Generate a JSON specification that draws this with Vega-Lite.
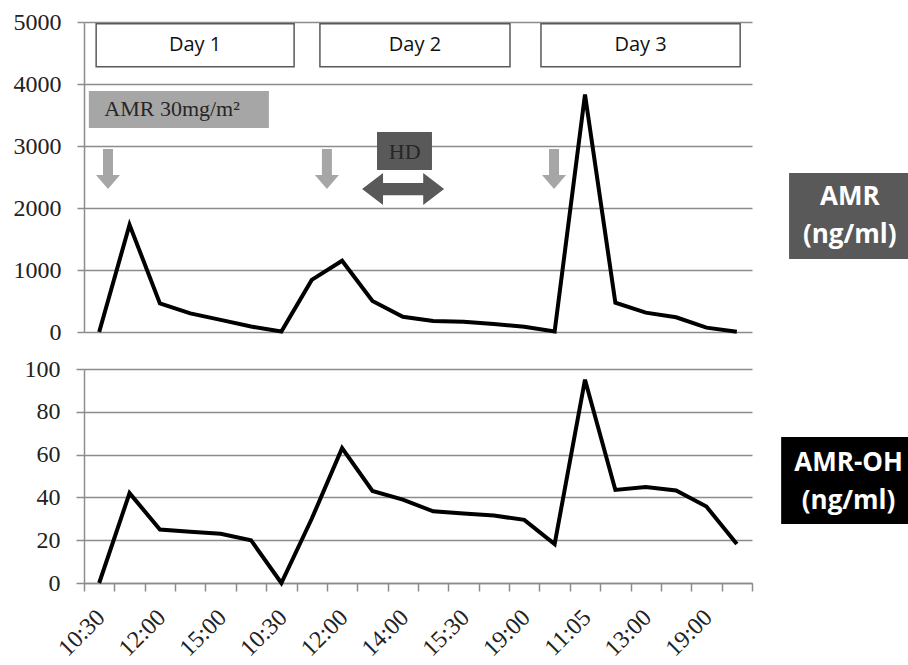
{
  "$schema": "https://vega.github.io/schema/vega-lite/v6.json",
  "background": "white",
  "padding": {"left": 13, "top": 10, "right": 0, "bottom": 0},
  "autosize": {"type": "pad"},
  "spacing": 37,
  "bounds": "flush",
  "config": {"view": {"stroke": null}},
  "datasets": {
    "conc": [
      {"idx": 0, "time": "10:30", "AMR": 0, "AMR_OH": 0},
      {"idx": 1, "time": "", "AMR": 1730, "AMR_OH": 42},
      {"idx": 2, "time": "12:00", "AMR": 460, "AMR_OH": 25},
      {"idx": 3, "time": "", "AMR": 300, "AMR_OH": 24},
      {"idx": 4, "time": "15:00", "AMR": 195, "AMR_OH": 23},
      {"idx": 5, "time": "", "AMR": 88, "AMR_OH": 20},
      {"idx": 6, "time": "10:30", "AMR": 8, "AMR_OH": 0},
      {"idx": 7, "time": "", "AMR": 840, "AMR_OH": 30},
      {"idx": 8, "time": "12:00", "AMR": 1150, "AMR_OH": 63},
      {"idx": 9, "time": "", "AMR": 500, "AMR_OH": 43},
      {"idx": 10, "time": "14:00", "AMR": 245, "AMR_OH": 39},
      {"idx": 11, "time": "", "AMR": 177, "AMR_OH": 33.5},
      {"idx": 12, "time": "15:30", "AMR": 166, "AMR_OH": 32.5},
      {"idx": 13, "time": "", "AMR": 129, "AMR_OH": 31.5},
      {"idx": 14, "time": "19:00", "AMR": 86, "AMR_OH": 29.5},
      {"idx": 15, "time": "", "AMR": 8, "AMR_OH": 18.2},
      {"idx": 16, "time": "11:05", "AMR": 3830, "AMR_OH": 95},
      {"idx": 17, "time": "", "AMR": 473, "AMR_OH": 43.5},
      {"idx": 18, "time": "13:00", "AMR": 312, "AMR_OH": 44.8},
      {"idx": 19, "time": "", "AMR": 237, "AMR_OH": 43.2},
      {"idx": 20, "time": "19:00", "AMR": 70, "AMR_OH": 35.7},
      {"idx": 21, "time": "", "AMR": 5, "AMR_OH": 18.2}
    ],
    "dayBoxes": [
      {"label": "Day 1", "x1": -0.1, "x2": 6.42, "xc": 3.16, "y1": 4970, "y2": 4280, "yc": 4625},
      {"label": "Day 2", "x1": 7.27, "x2": 13.53, "xc": 10.4, "y1": 4970, "y2": 4280, "yc": 4625},
      {"label": "Day 3", "x1": 14.55, "x2": 21.11, "xc": 17.83, "y1": 4970, "y2": 4280, "yc": 4625}
    ],
    "topBoxes": [
      {"label": "AMR 30mg/m²", "x1": -0.34, "x2": 5.59, "y1": 3887, "y2": 3290, "fill": "#a6a6a6"},
      {"label": "HD", "x1": 9.15, "x2": 10.96, "y1": 3226, "y2": 2613, "fill": "#595959"},
      {"label": "AMR", "x1": 22.72, "x2": 26.7, "y1": 2565, "y2": 1177, "fill": "#595959"}
    ],
    "topBoxText": [
      {"label": "AMR 30mg/m²", "x": 2.4, "y": 3600},
      {"label": "HD", "x": 10.06, "y": 2910}
    ],
    "downArrows": [
      {"x": 0.29, "y": 2630},
      {"x": 7.5, "y": 2630},
      {"x": 14.98, "y": 2630}
    ],
    "hdArrow": [
      {"x": 10.01, "y": 2306}
    ],
    "topSide": [
      {"label": "AMR", "x": 24.72, "y": 2170},
      {"label": "(ng/ml)", "x": 24.72, "y": 1560}
    ],
    "botBox": [
      {"x1": 22.46, "x2": 26.7, "y1": 68.2, "y2": 27.6}
    ],
    "botSide": [
      {"label": "AMR-OH", "x": 24.68, "y": 56.3},
      {"label": "(ng/ml)", "x": 24.68, "y": 38.5}
    ]
  },
  "vconcat": [
    {
      "width": 668,
      "height": 310,
      "layer": [
        {
          "data": {"name": "dayBoxes"},
          "mark": {"type": "rect", "fill": "white", "stroke": "#595959", "strokeWidth": 1.5},
          "encoding": {
            "x": {"field": "x1", "type": "quantitative", "scale": {"domain": [-0.5, 21.5], "nice": false, "zero": false}, "axis": null},
            "x2": {"field": "x2"},
            "y": {"field": "y1", "type": "quantitative", "scale": {"domain": [0, 5000], "nice": false},
              "axis": {"values": [0, 1000, 2000, 3000, 4000, 5000], "tickCount": 10, "format": "d", "grid": true, "gridColor": "#8c8c8c", "gridWidth": 1.5,
                "domain": true, "domainColor": "#8c8c8c", "domainWidth": 1.5, "ticks": true, "tickSize": 7, "tickColor": "#8c8c8c", "tickWidth": 1.5,
                "labelFont": "Liberation Serif", "labelFontSize": 24, "labelColor": "#222222", "labelPadding": 16, "title": null}},
            "y2": {"field": "y2"}
          }
        },
        {
          "data": {"name": "dayBoxes"},
          "mark": {"type": "text", "font": "Open Sans", "fontSize": 20, "color": "#111111", "align": "center", "baseline": "middle"},
          "encoding": {
            "x": {"field": "xc", "type": "quantitative"},
            "y": {"field": "yc", "type": "quantitative"},
            "text": {"field": "label"}
          }
        },
        {
          "data": {"name": "topBoxes"},
          "mark": {"type": "rect"},
          "encoding": {
            "x": {"field": "x1", "type": "quantitative"},
            "x2": {"field": "x2"},
            "y": {"field": "y1", "type": "quantitative"},
            "y2": {"field": "y2"},
            "fill": {"field": "fill", "type": "nominal", "scale": null}
          }
        },
        {
          "data": {"name": "topBoxText"},
          "mark": {"type": "text", "font": "Liberation Serif", "fontSize": 22, "color": "#262626", "align": "center", "baseline": "middle"},
          "encoding": {
            "x": {"field": "x", "type": "quantitative"},
            "y": {"field": "y", "type": "quantitative"},
            "text": {"field": "label"}
          }
        },
        {
          "data": {"name": "downArrows"},
          "mark": {"type": "point", "filled": true, "color": "#a6a6a6", "opacity": 1, "size": 1600,
            "shape": "M-0.25,-1 L0.25,-1 L0.25,0.3 L0.6,0.3 L0,1 L-0.6,0.3 L-0.25,0.3 Z"},
          "encoding": {
            "x": {"field": "x", "type": "quantitative"},
            "y": {"field": "y", "type": "quantitative"}
          }
        },
        {
          "data": {"name": "hdArrow"},
          "mark": {"type": "point", "filled": true, "color": "#595959", "opacity": 1, "size": 6724,
            "shape": "M-1,0 L-0.49,-0.39 L-0.49,-0.15 L0.49,-0.15 L0.49,-0.39 L1,0 L0.49,0.39 L0.49,0.15 L-0.49,0.15 L-0.49,0.39 Z"},
          "encoding": {
            "x": {"field": "x", "type": "quantitative"},
            "y": {"field": "y", "type": "quantitative"}
          }
        },
        {
          "data": {"name": "topSide"},
          "mark": {"type": "text", "font": "Open Sans", "fontSize": 26, "fontWeight": "bold", "color": "white", "align": "center", "baseline": "middle"},
          "encoding": {
            "x": {"field": "x", "type": "quantitative"},
            "y": {"field": "y", "type": "quantitative"},
            "text": {"field": "label"}
          }
        },
        {
          "data": {"name": "conc"},
          "mark": {"type": "line", "color": "black", "strokeWidth": 4, "strokeJoin": "miter"},
          "encoding": {
            "x": {"field": "idx", "type": "quantitative"},
            "y": {"field": "AMR", "type": "quantitative"}
          }
        }
      ]
    },
    {
      "width": 668,
      "height": 214,
      "layer": [
        {
          "data": {"name": "conc"},
          "mark": {"type": "line", "color": "black", "strokeWidth": 4, "strokeJoin": "miter"},
          "encoding": {
            "x": {"field": "idx", "type": "quantitative", "scale": {"domain": [-0.5, 21.5], "nice": false, "zero": false},
              "axis": {"values": [-0.5, 0.5, 1.5, 2.5, 3.5, 4.5, 5.5, 6.5, 7.5, 8.5, 9.5, 10.5, 11.5, 12.5, 13.5, 14.5, 15.5, 16.5, 17.5, 18.5, 19.5, 20.5, 21.5],
                "tickCount": 40,
                "grid": false, "domain": true, "domainColor": "#8c8c8c", "domainWidth": 1.5, "ticks": true, "tickSize": 8, "tickColor": "#8c8c8c", "tickWidth": 1.5,
                "labelExpr": "['10:30','','12:00','','15:00','','10:30','','12:00','','14:00','','15:30','','19:00','','11:05','','13:00','','19:00',''][datum.value - 0.5] || ''",
                "labelAngle": -45, "labelOffset": -22, "labelPadding": 14, "labelOverlap": false, "labelFlush": false,
                "labelFont": "Liberation Serif", "labelFontSize": 24, "labelColor": "#222222", "title": null}},
            "y": {"field": "AMR_OH", "type": "quantitative", "scale": {"domain": [0, 100], "nice": false},
              "axis": {"values": [0, 20, 40, 60, 80, 100], "tickCount": 10, "grid": true, "gridColor": "#8c8c8c", "gridWidth": 1.5,
                "domain": true, "domainColor": "#8c8c8c", "domainWidth": 1.5, "ticks": true, "tickSize": 8, "tickColor": "#8c8c8c", "tickWidth": 1.5,
                "labelFont": "Liberation Serif", "labelFontSize": 24, "labelColor": "#222222", "labelPadding": 16, "title": null}}
          }
        },
        {
          "data": {"name": "botBox"},
          "mark": {"type": "rect", "fill": "black"},
          "encoding": {
            "x": {"field": "x1", "type": "quantitative"},
            "x2": {"field": "x2"},
            "y": {"field": "y1", "type": "quantitative"},
            "y2": {"field": "y2"}
          }
        },
        {
          "data": {"name": "botSide"},
          "mark": {"type": "text", "font": "Open Sans", "fontSize": 26, "fontWeight": "bold", "color": "white", "align": "center", "baseline": "middle"},
          "encoding": {
            "x": {"field": "x", "type": "quantitative"},
            "y": {"field": "y", "type": "quantitative"},
            "text": {"field": "label"}
          }
        }
      ]
    }
  ]
}
